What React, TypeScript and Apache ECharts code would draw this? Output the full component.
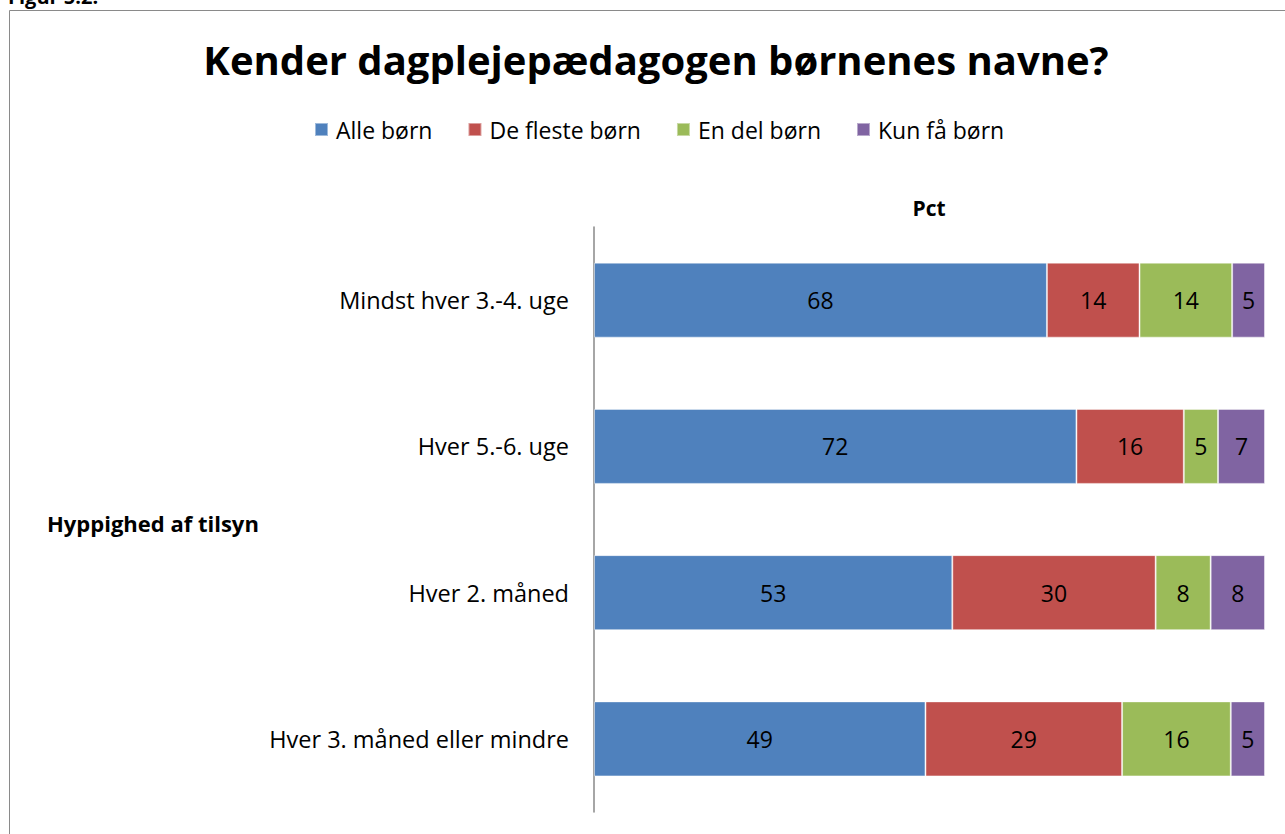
import React, { useEffect, useRef } from "react";
import * as echarts from "echarts";

const categories = [
  "Mindst hver 3.-4. uge",
  "Hver 5.-6. uge",
  "Hver 2. måned",
  "Hver 3. måned eller mindre",
];
const seriesNames = ["Alle børn", "De fleste børn", "En del børn", "Kun få børn"];
const alleBoern = [67.5, 71.9, 53.4, 49.4];
const deFlesteBoern = [13.8, 16.0, 30.3, 29.3];
const enDelBoern = [13.8, 5.1, 8.2, 16.2];
const kunFaaBoern = [4.9, 7.0, 8.1, 5.1];
const colors = ["#4F81BD", "#C0504D", "#9BBB59", "#8064A2"];

const FONT = "Open Sans";

export default function App() {
  const ref = useRef<HTMLDivElement>(null);
  useEffect(() => {
    if (!ref.current) return;
    const chart = echarts.init(ref.current, undefined, { renderer: "svg" });
    const values = [alleBoern, deFlesteBoern, enDelBoern, kunFaaBoern];
    chart.setOption({
      animation: false,
      backgroundColor: "#ffffff",
      textStyle: { fontFamily: FONT },
      title: {
        text: "Kender dagplejepædagogen børnenes navne?",
        left: 651,
        textAlign: "center",
        top: 34,
        textStyle: { fontFamily: FONT, fontSize: 40, fontWeight: "bold", color: "#000" },
      },
      legend: {
        left: 314,
        top: 118,
        padding: 0,
        itemWidth: 13,
        itemHeight: 13,
        itemGap: 35,
        icon: "rect",
        textStyle: { fontFamily: FONT, fontSize: 23, color: "#000", padding: [0, 0, 0, 3] },
        data: seriesNames,
      },
      graphic: [
        {
          type: "rect",
          shape: { x: 9.5, y: 10.5, width: 1400, height: 900 },
          style: { fill: "none", stroke: "#8a8a8a", lineWidth: 1 },
          silent: true,
        },
        {
          type: "text",
          x: 8,
          y: -14,
          style: { text: "Figur 5.2.", font: `bold 20px ${FONT}`, fill: "#000" },
        },
        {
          type: "text",
          x: 929,
          y: 208,
          style: {
            text: "Pct",
            font: `bold 21px ${FONT}`,
            fill: "#000",
            align: "center",
            verticalAlign: "middle",
          },
        },
        {
          type: "text",
          x: 47,
          y: 523,
          style: {
            text: "Hyppighed af tilsyn",
            font: `bold 22px ${FONT}`,
            fill: "#000",
            align: "left",
            verticalAlign: "middle",
          },
        },
      ],
      grid: { left: 594, right: 20, top: 227, bottom: 22, containLabel: false },
      xAxis: {
        type: "value",
        min: 0,
        max: 100,
        show: false,
      },
      yAxis: {
        type: "category",
        inverse: true,
        data: categories,
        axisLine: { show: true, lineStyle: { color: "#888888", width: 1.5 } },
        axisTick: { show: false },
        axisLabel: { fontFamily: FONT, fontSize: 23.5, color: "#000", margin: 25 },
      },
      series: values.map((v, i) => ({
        name: seriesNames[i],
        type: "bar",
        stack: "total",
        barWidth: 75,
        data: v,
        itemStyle: { color: colors[i], borderColor: "rgba(255,255,255,0.45)", borderWidth: 1 },
        label: {
          show: true,
          position: "inside",
          fontFamily: FONT,
          fontSize: 23,
          color: "#000",
          formatter: (p: any) => String(Math.round(p.value)),
        },
      })),
    });
    return () => chart.dispose();
  }, []);
  return (
    <div
      ref={ref}
      style={{ position: "fixed", left: 0, top: 0, width: 1285, height: 834 }}
    />
  );
}
